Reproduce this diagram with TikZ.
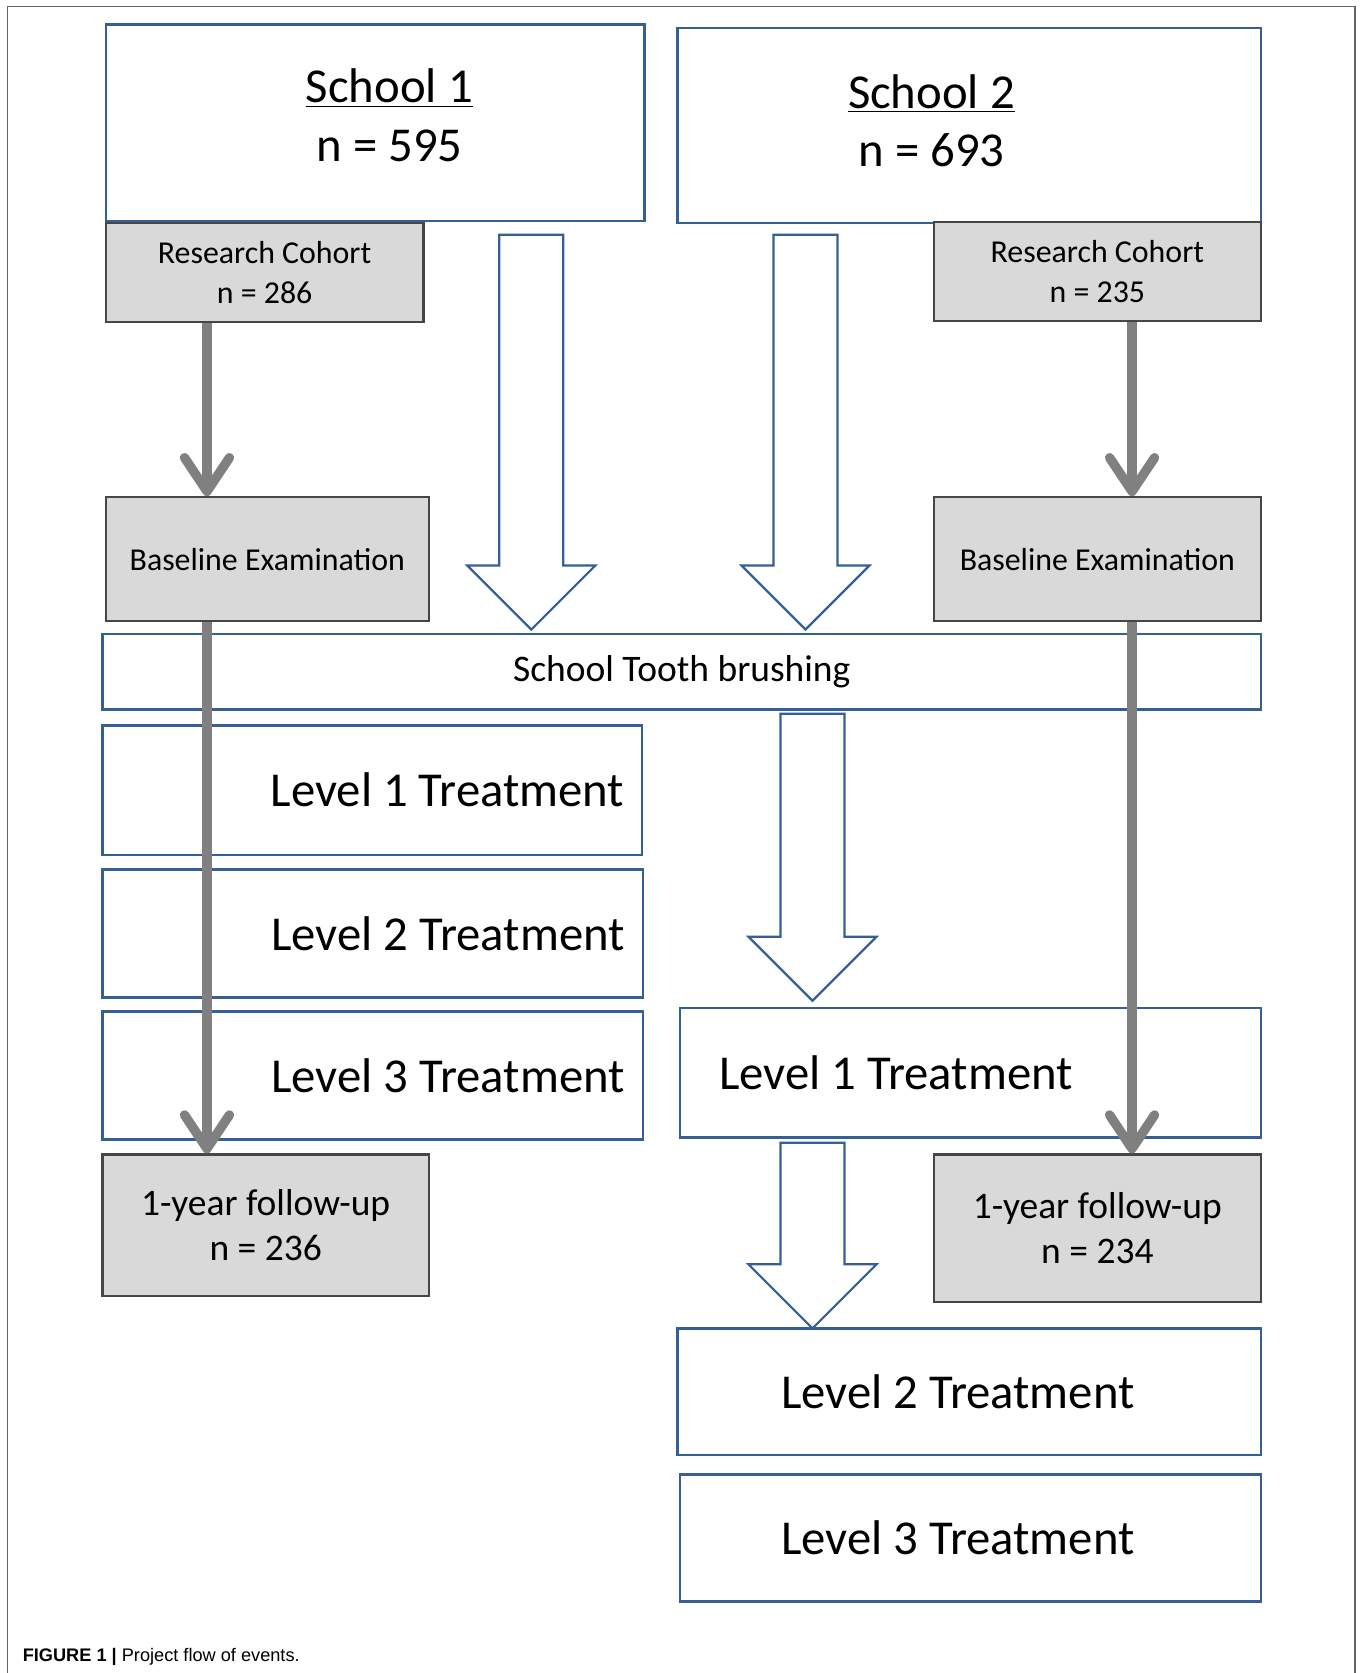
\documentclass[tikz,border=0pt]{standalone}
\usepackage{fontspec}
\setmainfont{Carlito}
\newfontfamily\figcapfont{Liberation Sans}
\usepackage{tikz}
\usetikzlibrary{arrows.meta}

\definecolor{flowblue}{RGB}{52,96,150}
\definecolor{boxfill}{RGB}{217,217,217}
\definecolor{boxedge}{RGB}{70,70,70}
\definecolor{arrowgrey}{RGB}{128,128,128}
\definecolor{framegrey}{RGB}{100,100,100}

% hollow block arrow: centre x, top y, tip y
\newcommand{\hollowdown}[3]{%
  \draw[hollowarrow] (#1-30,#2) -- (#1+30,#2) -- (#1+30,#3-60) -- (#1+60,#3-60)
    -- (#1,#3) -- (#1-60,#3-60) -- (#1-30,#3-60) -- cycle;}

\begin{document}
\begin{tikzpicture}[x=0.02cm,y=-0.02cm,
    bluebox/.style={draw=flowblue,line width=1.2pt,fill=white,inner sep=0pt},
    greybox/.style={draw=boxedge,line width=1.2pt,fill=boxfill,inner sep=0pt,align=center,font=\fontsize{17}{21}\selectfont},
    bigtext/.style={font=\fontsize{26}{31}\selectfont,align=center,inner sep=0pt},
    greyarrow/.style={draw=arrowgrey,line width=5pt,-{Straight Barb[length=18pt,width=24pt,round]}},
    hollowarrow/.style={draw=flowblue,line width=1.2pt,fill=white,line join=miter}]
        \useasboundingbox (0,0) rectangle (1277,1568);
        \draw[framegrey,line width=0.7pt] (7,1568) -- (7,6) -- (1270,6) -- (1270,1568);
        % schools
        \node[bluebox,minimum width=10.1cm,minimum height=3.68cm] (school1) at (351.5,115) {};
        \node[bigtext] (school1txt) at (365,108) {\underline{School 1}\\n = 595};
        \node[bluebox,minimum width=10.94cm,minimum height=3.66cm] (school2) at (908.5,117.5) {};
        \node[bigtext] (school2txt) at (873,113.5) {\underline{School 2}\\n = 693};
        % research cohorts
        \node[greybox,minimum width=5.96cm,minimum height=1.86cm] (cohort1) at (248,255.5) {Research Cohort\\n = 286};
        \node[greybox,minimum width=6.14cm,minimum height=1.86cm] (cohort2) at (1028.5,254.5) {Research Cohort\\n = 235};
        \node[greybox,minimum width=6.06cm,minimum height=2.32cm] (base1) at (250.5,524) {Baseline Examination};
        \node[greybox,minimum width=6.14cm,minimum height=2.32cm] (base2) at (1028.5,524) {Baseline Examination};
        % brushing
        \node[bluebox,minimum width=21.72cm,minimum height=1.42cm,font=\fontsize{20}{24}\selectfont] (brush) at (639,629.5) {School Tooth brushing};
        % school 1 treatments
        \node[bluebox,bigtext,minimum width=10.12cm,minimum height=2.42cm,text width=9.44cm,align=flush right] (lvlA1) at (349,740.5) {Level 1 Treatment};
        \node[bluebox,bigtext,minimum width=10.14cm,minimum height=2.4cm,text width=9.44cm,align=flush right] (lvlA2) at (349.5,875) {Level 2 Treatment};
        \node[bluebox,bigtext,minimum width=10.14cm,minimum height=2.4cm,text width=9.44cm,align=flush right] (lvlA3) at (349.5,1008) {Level 3 Treatment};
        \node[greybox,minimum width=6.12cm,minimum height=2.66cm,font=\fontsize{20}{24}\selectfont] (follow1) at (249,1148.5) {1-year follow-up\\n = 236};
        % school 2 treatments
        \node[bluebox,bigtext,minimum width=10.9cm,minimum height=2.42cm,text width=9.42cm,align=flush left] (lvlB1) at (909.5,1005.5) {Level 1 Treatment};
        \node[greybox,minimum width=6.14cm,minimum height=2.76cm,font=\fontsize{20}{24}\selectfont] (follow2) at (1028.5,1151) {1-year follow-up\\n = 234};
        \node[bluebox,bigtext,minimum width=10.94cm,minimum height=2.38cm,text width=7.06cm,align=flush left] (lvlB2) at (908.5,1304.5) {Level 2 Treatment};
        \node[bluebox,bigtext,minimum width=10.9cm,minimum height=2.38cm,text width=7.1cm,align=flush left] (lvlB3) at (909.5,1441.5) {Level 3 Treatment};
        % hollow arrows
        \hollowdown{498}{220}{590}
        \hollowdown{755}{220}{590}
        \hollowdown{761.5}{669}{938}
        \hollowdown{761.5}{1071}{1245}
        % cohort arrows
        \draw[greyarrow] (194,0 |- cohort1.south) -- (194,0 |- base1.north);
        \draw[greyarrow] (1061,0 |- cohort2.south) -- (1061,0 |- base2.north);
        \draw[greyarrow] (194,0 |- base1.south) -- (194,0 |- follow1.north);
        \draw[greyarrow] (1061,0 |- base2.south) -- (1061,0 |- follow2.north);
        \node[anchor=base west,inner sep=0pt,font=\figcapfont\fontsize{9.7}{11}\selectfont] (caption) at (21,1557) {\textbf{FIGURE 1 |} Project flow of events.};
      \end{tikzpicture}
\end{document}
